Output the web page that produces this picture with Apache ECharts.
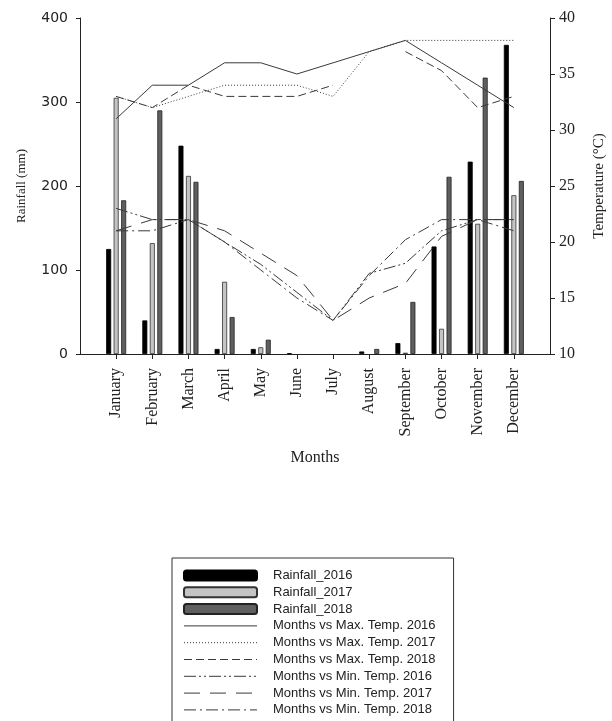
<!DOCTYPE html>
<html>
<head>
    <meta charset="utf-8">
    <title>Rainfall and temperature</title>
    <script src="https://cdn.jsdelivr.net/npm/echarts@6/dist/echarts.min.js"></script>
</head>
<body style="margin:0">
    <div id="main" style="width: 612px;height:721px;"></div>
    <script>
        // monthly values
        var months = ['January', 'February', 'March', 'April', 'May', 'June',
            'July', 'August', 'September', 'October', 'November', 'December'];
        var rain2016 = [125, 40, 248, 6, 6, 1, null, 3, 13, 128, 229, 368];
        var rain2017 = [305, 132, 212, 86, 8, null, null, null, 1.5, 30, 155, 189];
        var rain2018 = [183, 290, 205, 44, 17, null, null, 6, 62, 211, 329, 206];
        var maxT2016 = [31, 34, 34, 36, 36, 35, 36, 37, 38, 36, 34, 32];
        var maxT2017 = [33, 32, 33, 34, 34, 34, 33, 37, 38, 38, 38, 38];
        var maxT2018 = [33, 32, 34, 33, 33, 33, 34, null, 37, 35.3, 32, 33];
        var minT2016 = [23, 22, 22, 20, 18, 15.5, 13, 17.2, 18.1, 21, 22, 22];
        var minT2017 = [21, 22, 22, 21, 19, 17, 13, 15, 16.3, 20.5, 22, 22];
        var minT2018 = [21, 21, 22, 20, 17.5, 15, 13, 17, 20.2, 22, 22, 21];

        // empty slot at each end so the months sit at 1..12 on a 0..13 axis
        function pad(a) { return [null].concat(a, [null]); }

        var serif = 'Liberation Serif';
        var lineColor = '#3a3a3a';

        function barSeries(name, data, color, border) {
            return {
                name: name, type: 'bar', data: pad(data),
                barWidth: 5, barGap: '50%',
                itemStyle: { color: color, borderColor: border, borderWidth: 0.8 }
            };
        }
        function lineSeries(name, data, dash) {
            return {
                name: name, type: 'line', yAxisIndex: 1, data: pad(data),
                symbol: 'none',
                lineStyle: { color: lineColor, width: 1, type: dash },
                itemStyle: { color: lineColor }
            };
        }

        var chartDom = document.getElementById('main');
        var myChart = echarts.init(chartDom);
        var lineLegend = { itemStyle: { opacity: 0 } };

        var option = {
            animation: false,
            backgroundColor: '#fff',
            grid: { left: 80, right: 62, top: 18, bottom: 367, outerBoundsMode: 'none' },
            legend: {
                orient: 'vertical',
                left: 172, top: 558,
                height: 180,
                padding: [11, 18, 10, 11],
                borderColor: '#333', borderWidth: 1,
                backgroundColor: '#fff',
                itemWidth: 73, itemHeight: 10, itemGap: 3.8,
                lineStyle: { width: 1 },
                textStyle: { fontFamily: 'Liberation Sans', fontSize: 13, color: '#222',
                    lineHeight: 13, padding: [0, 0, 0, 11] },
                data: [
                    { name: 'Rainfall_2016', icon: 'roundRect' },
                    { name: 'Rainfall_2017', icon: 'roundRect' },
                    { name: 'Rainfall_2018', icon: 'roundRect' },
                    Object.assign({ name: 'Months vs Max. Temp. 2016' }, lineLegend),
                    Object.assign({ name: 'Months vs Max. Temp. 2017' }, lineLegend),
                    Object.assign({ name: 'Months vs Max. Temp. 2018' }, lineLegend),
                    Object.assign({ name: 'Months vs Min. Temp. 2016' }, lineLegend),
                    Object.assign({ name: 'Months vs Min. Temp. 2017' }, lineLegend),
                    Object.assign({ name: 'Months vs Min. Temp. 2018' }, lineLegend)
                ]
            },
            xAxis: {
                type: 'category',
                data: pad(months).map(function (m) { return m || ''; }),
                boundaryGap: false,
                name: 'Months',
                nameLocation: 'middle',
                nameGap: 96,
                nameMoveOverlap: false,
                nameTextStyle: { fontFamily: serif, fontSize: 16, color: '#222' },
                axisLine: { lineStyle: { color: '#222' } },
                axisTick: {
                    length: 5,
                    interval: function (i) { return i > 0 && i < 13; },
                    lineStyle: { color: '#222' }
                },
                axisLabel: {
                    interval: 0, rotate: 90, margin: 14,
                    fontFamily: serif, fontSize: 16, color: '#222'
                },
                splitLine: { show: false }
            },
            yAxis: [
                {
                    type: 'value', min: 0, max: 400, interval: 100,
                    name: 'Rainfall (mm)',
                    nameLocation: 'middle', nameGap: 52, nameRotate: 90,
                    nameTextStyle: { fontFamily: serif, fontSize: 13, color: '#222' },
                    axisLine: { show: true, lineStyle: { color: '#222' } },
                    axisTick: { show: true, length: 4, lineStyle: { color: '#222' } },
                    axisLabel: { fontFamily: 'DejaVu Sans', fontSize: 14, color: '#222', margin: 12 },
                    splitLine: { show: false }
                },
                {
                    type: 'value', min: 10, max: 40, interval: 5,
                    position: 'right',
                    name: 'Temperature (\u00B0C)',
                    nameLocation: 'middle', nameGap: 42, nameRotate: 90,
                    nameTextStyle: { fontFamily: serif, fontSize: 15, color: '#222' },
                    axisLine: { show: true, lineStyle: { color: '#222' } },
                    axisTick: { show: true, length: 5, lineStyle: { color: '#222' } },
                    axisLabel: { fontFamily: serif, fontSize: 16, color: '#222', margin: 9 },
                    splitLine: { show: false }
                }
            ],
            series: [
                barSeries('Rainfall_2016', rain2016, '#000', '#000'),
                barSeries('Rainfall_2017', rain2017, '#c4c4c4', '#333'),
                barSeries('Rainfall_2018', rain2018, '#5f5f5f', '#222'),
                lineSeries('Months vs Max. Temp. 2016', maxT2016, 'solid'),
                lineSeries('Months vs Max. Temp. 2017', maxT2017, [1, 2]),
                lineSeries('Months vs Max. Temp. 2018', maxT2018, [8, 4]),
                lineSeries('Months vs Min. Temp. 2016', minT2016, [12, 3, 2, 3, 2, 3]),
                lineSeries('Months vs Min. Temp. 2017', minT2017, [16, 10]),
                lineSeries('Months vs Min. Temp. 2018', minT2018, [12, 4, 2, 4])
            ]
        };

        option && myChart.setOption(option);
    </script>
</body>
</html>
